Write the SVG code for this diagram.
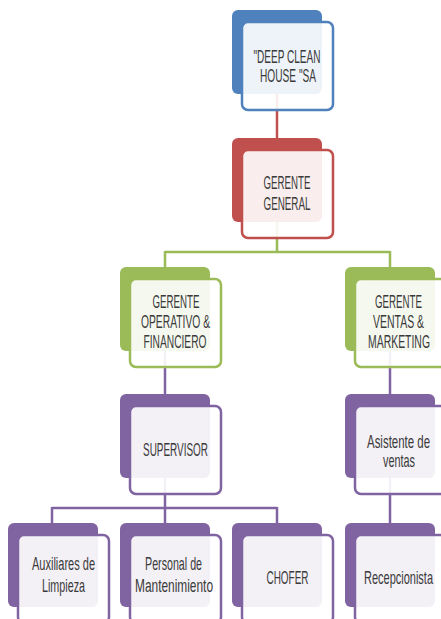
<svg xmlns="http://www.w3.org/2000/svg" width="441" height="619" viewBox="0 0 441 619">
<style>
.bk{stroke:none}
.fr{fill:#ffffff;fill-opacity:0.9;stroke-width:2.5}
.blue .bk{fill:#4f81bd}.blue .fr{stroke:#4f81bd}
.red .bk{fill:#c0504d}.red .fr{stroke:#c0504d}
.green .bk{fill:#9bbb59}.green .fr{stroke:#9bbb59}
.purple .bk{fill:#8064a2}.purple .fr{stroke:#8064a2}
text{font-family:"Liberation Sans",Arial,sans-serif;font-size:18px;fill:#3a3a3a;text-anchor:middle}
.c{fill:none;stroke-width:2.5}
</style>
<rect width="441" height="619" fill="#ffffff"/>
<g id="connectors">
<path class="c" stroke="#c0504d" d="M277 94 V150"/>
<path class="c" stroke="#9bbb59" d="M277 222 V252 M165 252 H390 M165 251 V279 M390 251 V279"/>
<path class="c" stroke="#8064a2" d="M165 350 V406 M390 350 V406 M165 477 V535 M52 508 H277 M52 507 V535 M277 507 V535 M390 477 V535"/>
</g>
<g id="n1" class="blue">
<rect class="bk" x="232" y="10" width="90" height="84" rx="6"/>
<rect class="fr" x="242" y="22" width="91" height="88" rx="6"/>
<text transform="translate(287 63) scale(0.6 1)" textLength="111.7" lengthAdjust="spacingAndGlyphs">"DEEP CLEAN</text>
<text transform="translate(288 82) scale(0.6 1)" textLength="93.3" lengthAdjust="spacingAndGlyphs">HOUSE "SA</text>
</g>
<g id="n2" class="red">
<rect class="bk" x="232" y="138" width="90" height="84" rx="6"/>
<rect class="fr" x="242" y="150" width="91" height="88" rx="6"/>
<text transform="translate(287 189) scale(0.6 1)" textLength="78.3" lengthAdjust="spacingAndGlyphs">GERENTE</text>
<text transform="translate(287 210) scale(0.6 1)" textLength="78.3" lengthAdjust="spacingAndGlyphs">GENERAL</text>
</g>
<g id="n3" class="green">
<rect class="bk" x="120" y="267" width="90" height="84" rx="6"/>
<rect class="fr" x="130" y="279" width="91" height="88" rx="6"/>
<text transform="translate(176 308) scale(0.6 1)" textLength="78.3" lengthAdjust="spacingAndGlyphs">GERENTE</text>
<text transform="translate(175.5 328) scale(0.6 1)" textLength="115" lengthAdjust="spacingAndGlyphs">OPERATIVO &amp;</text>
<text transform="translate(175 348) scale(0.6 1)" textLength="105" lengthAdjust="spacingAndGlyphs">FINANCIERO</text>
</g>
<g id="n4" class="green">
<rect class="bk" x="345" y="267" width="90" height="84" rx="6"/>
<rect class="fr" x="355" y="279" width="91" height="88" rx="6"/>
<text transform="translate(398.5 308) scale(0.6 1)" textLength="78.3" lengthAdjust="spacingAndGlyphs">GERENTE</text>
<text transform="translate(398.5 328) scale(0.6 1)" textLength="85" lengthAdjust="spacingAndGlyphs">VENTAS &amp;</text>
<text transform="translate(399 348) scale(0.6 1)" textLength="103.3" lengthAdjust="spacingAndGlyphs">MARKETING</text>
</g>
<g id="n5" class="purple">
<rect class="bk" x="120" y="394" width="90" height="84" rx="6"/>
<rect class="fr" x="130" y="406" width="91" height="88" rx="6"/>
<text transform="translate(175.5 456) scale(0.6 1)" textLength="108.3" lengthAdjust="spacingAndGlyphs">SUPERVISOR</text>
</g>
<g id="n6" class="purple">
<rect class="bk" x="345" y="394" width="90" height="84" rx="6"/>
<rect class="fr" x="355" y="406" width="91" height="88" rx="6"/>
<text transform="translate(398.5 448) scale(0.6 1)" textLength="105" lengthAdjust="spacingAndGlyphs">Asistente de</text>
<text transform="translate(399 467) scale(0.6 1)" textLength="53.3" lengthAdjust="spacingAndGlyphs">ventas</text>
</g>
<g id="n7" class="purple">
<rect class="bk" x="8" y="523" width="90" height="84" rx="6"/>
<rect class="fr" x="18" y="535" width="91" height="88" rx="6"/>
<text transform="translate(63.5 570) scale(0.6 1)" textLength="105" lengthAdjust="spacingAndGlyphs">Auxiliares de</text>
<text transform="translate(63.5 592) scale(0.6 1)" textLength="71.7" lengthAdjust="spacingAndGlyphs">Limpieza</text>
</g>
<g id="n8" class="purple">
<rect class="bk" x="120" y="523" width="90" height="84" rx="6"/>
<rect class="fr" x="130" y="535" width="91" height="88" rx="6"/>
<text transform="translate(173.5 570) scale(0.6 1)" textLength="95" lengthAdjust="spacingAndGlyphs">Personal de</text>
<text transform="translate(174 592) scale(0.6 1)" textLength="130" lengthAdjust="spacingAndGlyphs">Mantenimiento</text>
</g>
<g id="n9" class="purple">
<rect class="bk" x="232" y="523" width="90" height="84" rx="6"/>
<rect class="fr" x="242" y="535" width="91" height="88" rx="6"/>
<text transform="translate(287.5 584) scale(0.6 1)" textLength="70" lengthAdjust="spacingAndGlyphs">CHOFER</text>
</g>
<g id="n10" class="purple">
<rect class="bk" x="345" y="523" width="90" height="84" rx="6"/>
<rect class="fr" x="355" y="535" width="91" height="88" rx="6"/>
<text transform="translate(398.5 584) scale(0.6 1)" textLength="115" lengthAdjust="spacingAndGlyphs">Recepcionista</text>
</g>
</svg>
